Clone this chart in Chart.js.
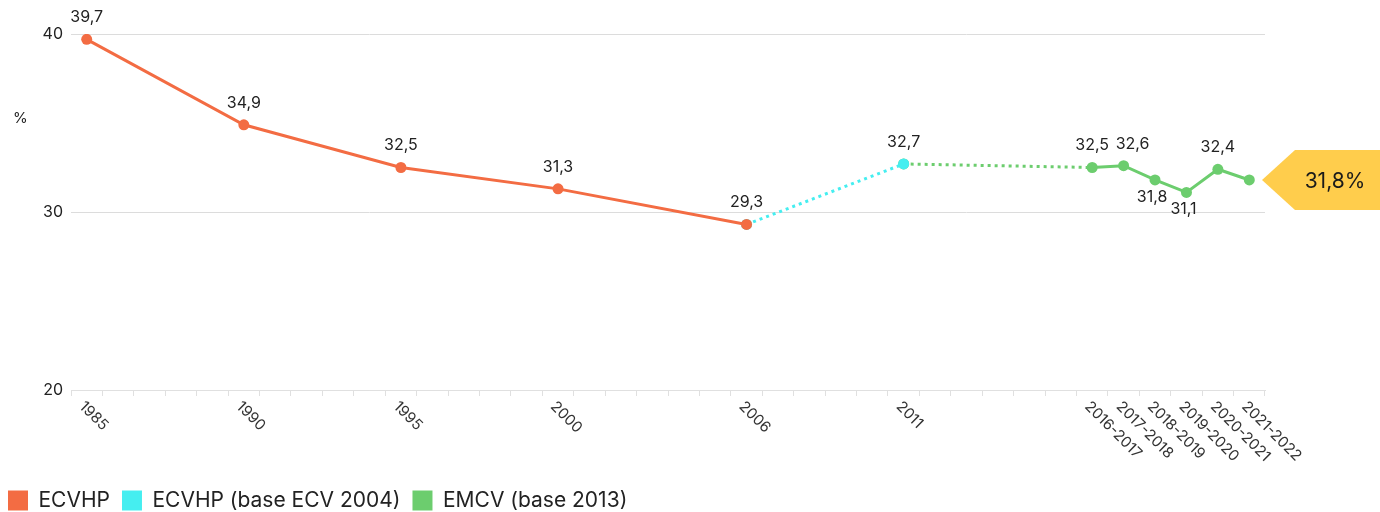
<!DOCTYPE html>
<html>
<head>
<meta charset="utf-8">
<script src="https://cdn.jsdelivr.net/npm/chart.js@4.4.1/dist/chart.umd.min.js"></script>
<style>
  html, body { margin: 0; padding: 0; background: #fff; overflow: hidden; }
  #wrap { position: relative; width: 1380px; height: 521px; }
</style>
</head>
<body>
<div id="wrap"><canvas id="c"></canvas></div>
<script>
// ---------- DATA ----------
const categories = [
  '1985','1986','1987','1988','1989','1990','1991','1992','1993','1994',
  '1995','1996','1997','1998','1999','2000','2001','2002','2003','2004',
  '2005','2006','2007','2008','2009','2010','2011','2012','2013','2014',
  '2015','2016','2016-2017','2017-2018','2018-2019','2019-2020','2020-2021','2021-2022'
];
const tickLabels = ['1985','1990','1995','2000','2006','2011',
  '2016-2017','2017-2018','2018-2019','2019-2020','2020-2021','2021-2022'];

const ecvhpYears  = ['1985','1990','1995','2000','2006'];
const ecvhpValues = [39.7, 34.9, 32.5, 31.3, 29.3];

const ecv2004Years  = ['2006','2011'];
const ecv2004Values = [29.3, 32.7];

const emcvYears  = ['2011','2016-2017','2017-2018','2018-2019','2019-2020','2020-2021','2021-2022'];
const emcvValues = [32.7, 32.5, 32.6, 31.8, 31.1, 32.4, 31.8];

const seriesNames = ['ECVHP', 'ECVHP (base ECV 2004)', 'EMCV (base 2013)'];
const yTicks = [20, 30, 40];
const unitLabel = '%';

// label styling config
const labelsBelow = ['2018-2019', '2019-2020'];   // EMCV labels placed under the point
const labelsNudgedRight = ['2017-2018'];          // avoid collision with the neighbouring label
// ---------- END DATA ----------

const FONT = 'Inter, "Noto Sans", sans-serif';
const ORANGE = '#F36C43', CYAN = '#45EEF0', GREEN = '#6CCD6E', YELLOW = '#FFCD4C';
const fmt = v => String(v).replace('.', ',');
const toPts = (years, vals) => years.map((y, i) => ({ x: y, y: vals[i] }));

function gapDash(years) {
  return ctx => {
    const a = categories.indexOf(years[ctx.p0DataIndex]);
    const b = categories.indexOf(years[ctx.p1DataIndex]);
    return (b - a > 1) ? [3, 4] : undefined;
  };
}

const labelPlugin = {
  id: 'customText',
  afterDatasetsDraw(chart) {
    const ctx = chart.ctx;
    const xs = chart.scales.x;
    const area = chart.chartArea;
    ctx.save();
    // x tick labels, rotated
    ctx.fillStyle = '#333';
    ctx.font = '15px ' + FONT;
    ctx.textAlign = 'left';
    ctx.textBaseline = 'middle';
    tickLabels.forEach(lbl => {
      const px = xs.getPixelForValue(categories.indexOf(lbl));
      ctx.save();
      ctx.translate(px - 5, area.bottom + 14);
      ctx.rotate(Math.PI / 4);
      ctx.fillText(lbl, 0, 0);
      ctx.restore();
    });
    // unit label
    ctx.font = '15px ' + FONT;
    ctx.fillStyle = '#222';
    ctx.textAlign = 'left';
    ctx.fillText(unitLabel, 13, 118);

    // data labels
    ctx.font = '16px ' + FONT;
    ctx.fillStyle = '#222';
    ctx.textAlign = 'center';
    const drawLabels = (dsIndex, years, vals, skip) => {
      const meta = chart.getDatasetMeta(dsIndex);
      meta.data.forEach((pt, i) => {
        if (skip(i)) return;
        const below = labelsBelow.includes(years[i]);
        let dx = below ? -3 : 0;
        if (labelsNudgedRight.includes(years[i])) dx = 9;
        ctx.fillText(fmt(vals[i]), pt.x + dx, below ? pt.y + 17 : pt.y - 22);
      });
    };
    drawLabels(0, ecvhpYears, ecvhpValues, () => false);
    drawLabels(1, ecv2004Years, ecv2004Values, i => i === 0);
    drawLabels(2, emcvYears, emcvValues, i => i === 0 || i === emcvYears.length - 1);

    // callout for the latest value
    const meta = chart.getDatasetMeta(2);
    const last = meta.data[meta.data.length - 1];
    const y = last.y;
    const tipX = area.right - 3;
    ctx.fillStyle = YELLOW;
    ctx.beginPath();
    ctx.moveTo(tipX, y);
    ctx.lineTo(tipX + 33, y - 30);
    ctx.lineTo(chart.width, y - 30);
    ctx.lineTo(chart.width, y + 30);
    ctx.lineTo(tipX + 33, y + 30);
    ctx.closePath();
    ctx.fill();
    ctx.fillStyle = '#1a1a1a';
    ctx.font = '21px ' + FONT;
    ctx.textAlign = 'center';
    ctx.textBaseline = 'middle';
    ctx.fillText(fmt(emcvValues[emcvValues.length - 1]) + '%', 1335, y + 2);
    ctx.restore();
  }
};

new Chart(document.getElementById('c'), {
  type: 'line',
  data: {
    labels: categories,
    datasets: [
      {
        label: seriesNames[0],
        data: toPts(ecvhpYears, ecvhpValues),
        borderColor: ORANGE, backgroundColor: ORANGE,
        pointBackgroundColor: ORANGE,
        borderWidth: 3, pointRadius: 5.5, pointBorderWidth: 0,
        tension: 0
      },
      {
        label: seriesNames[1],
        data: toPts(ecv2004Years, ecv2004Values),
        borderColor: CYAN, backgroundColor: CYAN,
        pointBackgroundColor: CYAN,
        borderWidth: 3, borderDash: [3, 4],
        pointRadius: 5.5, pointBorderWidth: 0,
        tension: 0
      },
      {
        label: seriesNames[2],
        data: toPts(emcvYears, emcvValues),
        borderColor: GREEN, backgroundColor: GREEN,
        pointBackgroundColor: GREEN,
        borderWidth: 3, pointRadius: 5.5, pointBorderWidth: 0,
        segment: { borderDash: gapDash(emcvYears) },
        tension: 0
      }
    ]
  },
  options: {
    responsive: true,
    maintainAspectRatio: false,
    animation: false,
    layout: { padding: { top: 34, right: 115, left: -4, bottom: 0 } },
    plugins: {
      tooltip: { enabled: false },
      legend: {
        position: 'bottom',
        align: 'start',
        labels: {
          boxWidth: 20, boxHeight: 20, padding: 12,
          color: '#222',
          font: { family: FONT, size: 21 },
          generateLabels(chart) {
            return chart.data.datasets.map((ds, i) => ({
              text: ds.label,
              fillStyle: ds.borderColor,
              strokeStyle: ds.borderColor,
              lineWidth: 0,
              lineDash: [],
              hidden: !chart.isDatasetVisible(i),
              datasetIndex: i,
              fontColor: '#222'
            }));
          }
        }
      }
    },
    scales: {
      x: {
        type: 'category',
        offset: true,
        grid: { display: true, offset: true, drawOnChartArea: false, drawTicks: true, tickLength: 6, color: '#e0e0e0' },
        border: { display: true, color: '#e0e0e0' },
        ticks: { display: false },
        afterFit(s) { s.height = 88; }
      },
      y: {
        min: 20, max: 40,
        afterBuildTicks(s) { s.ticks = yTicks.map(v => ({ value: v })); },
        grid: { color: '#dcdcdc', drawTicks: false },
        border: { display: false },
        ticks: { padding: 8, color: '#222', font: { family: FONT, size: 16 } },
        afterFit(s) { s.width = 75; }
      }
    }
  },
  plugins: [labelPlugin]
});
</script>
</body>
</html>
